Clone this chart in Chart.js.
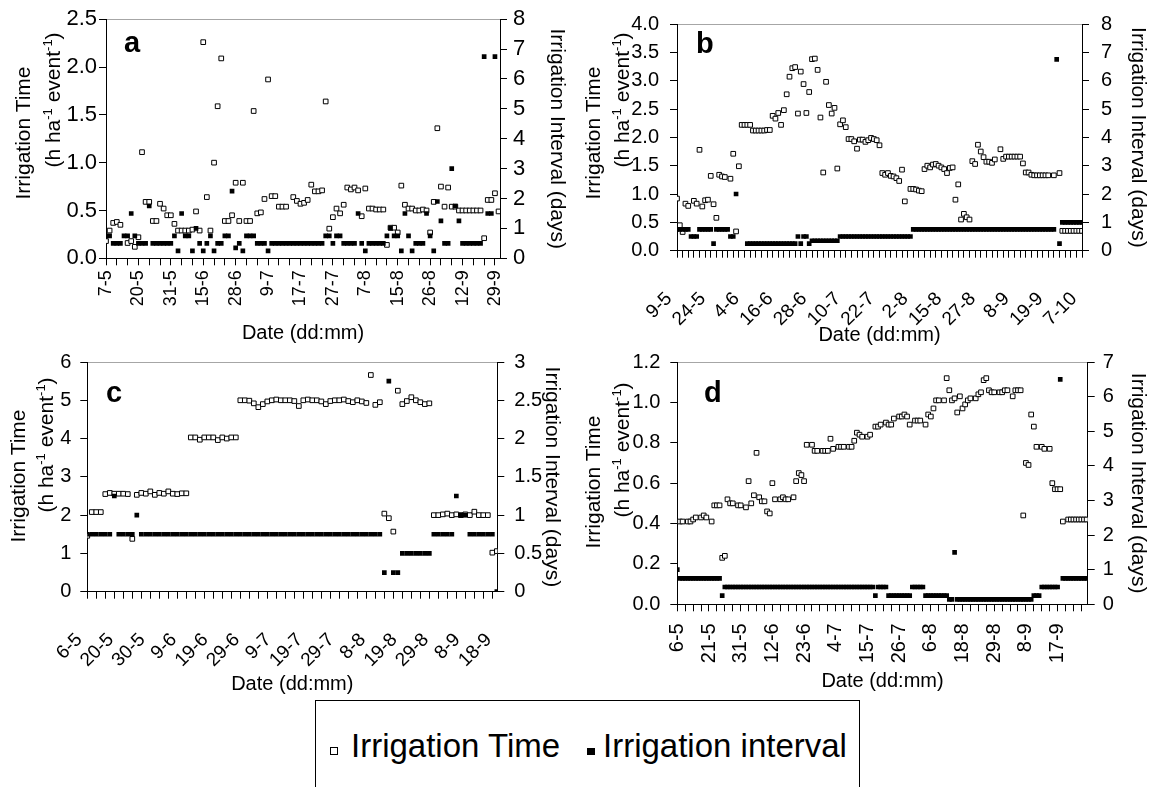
<!DOCTYPE html>
<html lang="en">
<head>
    <meta charset="UTF-8">
    <title>Irrigation time and interval</title>
    <script src="https://cdn.jsdelivr.net/npm/chart.js@4.4.0/dist/chart.umd.min.js"></script>
    <style>
        body {
            margin: 0;
            width: 1154px;
            height: 787px;
            position: relative;
            overflow: hidden;
            background: #fff;
            font-family: "Liberation Sans", Arial, sans-serif;
            color: #000;
        }
        canvas { position: absolute; }
        .ytitle {
            position: absolute;
            transform: translate(-50%, -50%) rotate(-90deg);
            white-space: nowrap;
            font-size: 21px;
            line-height: 1;
        }
        .sup { font-size: 13px; position: relative; top: -8px; }
        .letter {
            position: absolute;
            font-weight: bold;
            font-size: 29px;
            line-height: 29px;
        }
        #legendBox {
            position: absolute;
            left: 315px; top: 700px;
            width: 543px; height: 120px;
            border: 1px solid #000;
        }
        .legText { position: absolute; font-size: 33px; line-height: 1; white-space: nowrap; }
        .legMark { position: absolute; box-sizing: border-box; }
    </style>
</head>
<body>
    <canvas id="chartA" width="573" height="349" style="left:0; top:0"></canvas>
    <canvas id="chartB" width="574" height="351" style="left:580px; top:0"></canvas>
    <canvas id="chartC" width="568" height="360" style="left:0; top:340px"></canvas>
    <canvas id="chartD" width="569" height="357" style="left:585px; top:340px"></canvas>

    <!-- left axis titles (need superscripts) -->
    <div class="ytitle" style="left:22px; top:133px">Irrigation Time</div>
    <div class="ytitle" style="left:52px; top:100px">(h ha<span class="sup">-1</span> event<span class="sup">-1</span>)</div>
    <div class="ytitle" style="left:592px; top:133px">Irrigation Time</div>
    <div class="ytitle" style="left:621px; top:100px">(h ha<span class="sup">-1</span> event<span class="sup">-1</span>)</div>
    <div class="ytitle" style="left:17px; top:476px">Irrigation Time</div>
    <div class="ytitle" style="left:45px; top:445px">(h ha<span class="sup">-1</span> event<span class="sup">-1</span>)</div>
    <div class="ytitle" style="left:592px; top:482px">Irrigation Time</div>
    <div class="ytitle" style="left:621px; top:450px">(h ha<span class="sup">-1</span> event<span class="sup">-1</span>)</div>

    <div class="letter" style="left:124px; top:28px">a</div>
    <div class="letter" style="left:696px; top:29px">b</div>
    <div class="letter" style="left:106px; top:378px">c</div>
    <div class="letter" style="left:704px; top:378px">d</div>

    <div id="legendBox"></div>
    <div class="legMark" style="left:330px; top:747px; width:8px; height:8px; border:1px solid #000; background:#fff"></div>
    <div class="legText" style="left:351px; top:729px">Irrigation Time</div>
    <div class="legMark" style="left:587px; top:748px; width:8px; height:7px; background:#000"></div>
    <div class="legText" style="left:603px; top:729px">Irrigation interval</div>

    <script>
        // ---- data (one value per irrigation date, null = no point) ----
        const datesA = ['7-5', '20-5', '31-5', '15-6', '28-6', '9-7', '17-7', '27-7', '7-8', '15-8', '26-8', '12-9', '29-9'];
        const timeA = [
            0.18, 0.29, 0.37, 0.38, 0.35, null, 0.16, 0.18, 0.12, 0.22,
            1.11, 0.59, 0.59, 0.39, 0.39, 0.57, 0.52, 0.45, 0.45, 0.36,
            0.29, 0.29, 0.29, 0.29, 0.30, 0.49, 0.29, 2.26, 0.64, 0.29,
            1.00, 1.59, 2.09, 0.39, 0.39, 0.45, 0.79, 0.39, 0.79, 0.39,
            0.39, 1.54, 0.47, 0.48, 0.62, 1.87, 0.65, 0.65, 0.54, 0.54,
            0.54, null, 0.64, 0.60, 0.57, 0.58, 0.61, 0.77, 0.70, 0.70,
            0.71, 1.64, 0.31, 0.43, 0.52, 0.47, 0.56, 0.74, 0.72, 0.74,
            0.71, 0.44, 0.73, 0.52, 0.52, 0.51, 0.51, 0.51, 0.14, 0.32,
            0.32, 0.27, 0.76, 0.56, 0.52, 0.52, 0.50, 0.50, 0.51, 0.50,
            0.27, 0.59, 1.36, 0.75, 0.54, 0.74, 0.54, 0.54, 0.50, 0.50,
            0.50, 0.50, 0.50, 0.50, 0.50, 0.21, 0.61, 0.61, 0.68, 0.49
        ];
        const intervalA = [
            0.75, 0.75, 0.5, 0.5, 0.5, 0.75, 0.75, 1.5, 0.75, 0.5,
            0.5, 0.5, 1.75, 0.5, 0.5, 0.5, 0.5, 0.5, 0.5, 0.75,
            0.25, 1.5, 0.75, 0.75, 0.25, 1.0, 0.5, 0.25, 0.5, 0.75,
            0.25, 0.5, 0.5, 0.75, 0.75, 2.25, 0.35, 0.5, 0.25, 0.75,
            0.75, 0.75, 0.5, 0.5, 0.5, 0.25, 0.5, 0.5, 0.5, 0.5,
            0.5, 0.5, 0.5, 0.5, 0.5, 0.5, 0.5, 0.5, 0.5, 0.5,
            0.5, 0.75, 0.75, 0.5, 0.75, 0.75, 0.5, 0.5, 0.5, 0.5,
            1.5, 0.5, 0.25, 0.5, 0.5, 0.5, 0.5, 0.5, 0.75, 1.0,
            0.75, 0.75, 0.25, 1.5, 0.75, 0.25, 0.5, 0.5, 0.5, 1.5,
            0.75, 0.25, 1.9, 1.25, 0.5, 0.5, 3.0, 1.75, 1.25, 0.5,
            0.5, 0.5, 0.5, 0.5, 0.5, 6.75, 1.5, 1.5, 6.75
        ];

        const datesB = ['9-5', '24-5', '4-6', '16-6', '28-6', '10-7', '22-7', '2-8', '15-8', '27-8', '8-9', '19-9', '7-10'];
        const timeB = [
            0.92, 0.45, 0.33, 0.83, 0.79, null, 0.88, 0.83, 1.78, 0.78,
            0.89, 0.90, 1.32, 0.82, 0.58, 1.34, 1.31, 1.30, null, 1.27,
            1.71, 0.34, 1.49, 2.22, 2.22, 2.22, 2.22, 2.12, 2.12, 2.12,
            2.12, 2.12, 2.13, 2.13, 2.38, 2.33, 2.43, 2.22, 2.48, 2.76,
            3.07, 3.22, 3.24, 2.42, 3.16, 2.94, 2.43, 2.80, 3.38, 3.39,
            3.19, 2.35, 1.38, 2.98, 2.57, 2.42, 2.52, 1.45, 2.23, 2.30,
            2.18, 1.97, 1.97, 1.93, 1.80, 1.96, 1.96, 1.92, 1.95, 1.99,
            1.97, 1.95, 1.86, 1.37, 1.34, 1.37, 1.32, 1.31, 1.28, 1.23,
            1.43, 0.87, null, 1.09, 1.09, 1.08, 1.06, 1.05, 1.44, 1.50,
            1.47, 1.52, 1.53, 1.50, 1.47, 1.44, 1.37, 1.46, 1.47, 0.90,
            1.17, 0.55, 0.65, 0.59, 0.55, 1.58, 1.53, 1.87, 1.75, 1.65,
            1.57, 1.57, 1.55, 1.61, null, 1.79, 1.62, 1.66, 1.66, 1.66,
            1.66, 1.66, 1.66, 1.54, 1.38, 1.38, 1.34, 1.33, 1.33, 1.33,
            1.33, 1.33, 1.33, null, 1.33, null, 1.37, 0.35, 0.35, 0.35,
            0.35, 0.35, 0.35, 0.35, 0.35
        ];
        const intervalB = [
            0.75, 0.75, 0.75, 0.75, 0.75, 0.5, 0.5, 0.5, 0.75, 0.75,
            0.75, 0.75, 0.75, 0.25, 0.75, 0.75, 0.75, 0.75, 0.75, 0.5,
            0.5, 2.0, null, null, null, 0.25, 0.25, 0.25, 0.25, 0.25,
            0.25, 0.25, 0.25, 0.25, 0.25, 0.25, 0.25, 0.25, 0.25, 0.25,
            0.25, 0.25, 0.25, 0.5, 0.25, 0.5, 0.5, 0.25, 0.35, 0.35,
            0.35, 0.35, 0.35, 0.35, 0.35, 0.35, 0.35, 0.35, 0.5, 0.5,
            0.5, 0.5, 0.5, 0.5, 0.5, 0.5, 0.5, 0.5, 0.5, 0.5,
            0.5, 0.5, 0.5, 0.5, 0.5, 0.5, 0.5, 0.5, 0.5, 0.5,
            0.5, 0.5, 0.5, 0.5, 0.75, 0.75, 0.75, 0.75, 0.75, 0.75,
            0.75, 0.75, 0.75, 0.75, 0.75, 0.75, 0.75, 0.75, 0.75, 0.75,
            0.75, 0.75, 0.75, 0.75, 0.75, 0.75, 0.75, 0.75, 0.75, 0.75,
            0.75, 0.75, 0.75, 0.75, 0.75, 0.75, 0.75, 0.75, 0.75, 0.75,
            0.75, 0.75, 0.75, 0.75, 0.75, 0.75, 0.75, 0.75, 0.75, 0.75,
            0.75, 0.75, 0.75, 0.75, 0.75, 6.75, 0.25, 1.0, 1.0, 1.0,
            1.0, 1.0, 1.0, 1.0, 1.0
        ];

        const datesC = ['6-5', '20-5', '30-5', '9-6', '19-6', '29-6', '9-7', '19-7', '29-7', '8-8', '19-8', '29-8', '8-9', '18-9'];
        const timeC = [
            1.46, 2.08, 2.08, 2.08, 2.55, 2.58, 2.56, 2.56, 2.56, 2.55,
            1.38, 2.53, 2.58, 2.56, 2.62, 2.53, 2.58, 2.56, 2.62, 2.56,
            2.55, 2.57, 2.57, 4.03, 4.03, 3.97, 4.03, 4.03, 4.03, 3.96,
            4.03, 4.00, 4.03, 4.03, 5.00, 5.00, 4.99, 4.92, 4.82, 4.90,
            4.97, 5.00, 5.02, 5.00, 5.00, 5.00, 4.98, 4.85, 5.00, 5.02,
            5.00, 5.00, 4.97, 4.90, 4.98, 5.00, 5.00, 5.02, 4.98, 4.95,
            5.00, 4.97, 4.93, 5.66, 4.88, 4.95, 2.04, 1.92, 1.57, 5.25,
            4.90, 4.98, 5.08, 5.00, 4.95, 4.90, 4.92, 2.00, 2.00, 2.02,
            2.04, 2.00, 2.02, 2.00, 2.02, 2.00, 2.09, 2.00, 2.00, 2.00,
            1.02, 1.06
        ];
        const intervalC = [
            0.75, 0.75, 0.75, 0.75, 0.75, 0.75, 1.25, 0.75, 0.75, 0.75,
            0.75, 1.0, 0.75, 0.75, 0.75, 0.75, 0.75, 0.75, 0.75, 0.75,
            0.75, 0.75, 0.75, 0.75, 0.75, 0.75, 0.75, 0.75, 0.75, 0.75,
            0.75, 0.75, 0.75, 0.75, 0.75, 0.75, 0.75, 0.75, 0.75, 0.75,
            0.75, 0.75, 0.75, 0.75, 0.75, 0.75, 0.75, 0.75, 0.75, 0.75,
            0.75, 0.75, 0.75, 0.75, 0.75, 0.75, 0.75, 0.75, 0.75, 0.75,
            0.75, 0.75, 0.75, 0.75, 0.75, 0.75, 0.25, 2.75, 0.25, 0.25,
            0.5, 0.5, 0.5, 0.5, 0.5, 0.5, 0.5, 0.75, 0.75, 0.75,
            0.75, 0.75, 1.25, 1.0, 1.0, 0.75, 0.75, 0.75, 0.75, 0.75,
            0.75, 0
        ];

        const datesD = ['6-5', '21-5', '31-5', '12-6', '23-6', '4-7', '15-7', '26-7', '6-8', '18-8', '29-8', '8-9', '17-9'];
        const timeD = [
            null, 0.41, 0.41, null, 0.41, 0.41, 0.42, 0.43, null, 0.43,
            0.44, 0.43, null, 0.41, 0.49, 0.49, 0.49, 0.23, 0.24, 0.52,
            0.50, 0.50, null, 0.49, 0.49, null, 0.48, 0.61, 0.50, 0.54,
            0.75, 0.53, 0.51, 0.51, 0.46, 0.45, 0.60, 0.52, null, 0.52,
            0.53, 0.52, 0.52, null, 0.53, 0.61, 0.65, 0.64, 0.61, 0.79,
            null, 0.79, 0.76, 0.76, null, 0.76, 0.76, 0.76, 0.82, 0.77,
            null, 0.78, 0.78, 0.78, null, 0.78, 0.78, 0.81, 0.85, 0.84,
            0.83, null, 0.83, 0.84, null, 0.88, 0.88, 0.89, null, 0.90,
            0.89, 0.89, 0.92, null, 0.93, 0.93, 0.94, 0.93, 0.89, null,
            0.91, 0.91, 0.91, null, 0.89, 0.94, 0.93, 0.97, 1.01, 1.01,
            null, 1.01, 1.12, 1.06, 1.01, 1.02, 0.95, 1.03, 0.97, 0.99,
            1.01, 1.02, null, 1.02, 1.04, 1.05, 1.11, 1.12, 1.06, 1.05,
            1.05, null, 1.05, 1.05, 1.06, 1.06, null, 1.03, 1.06, 1.06,
            1.06, 0.44, 0.70, 0.69, 0.94, 0.88, 0.78, null, 0.78, 0.77,
            null, 0.77, 0.60, 0.57, 0.57, 0.57, 0.41, null, 0.42, 0.42,
            0.42, 0.42, 0.42, 0.42, 0.42, 0.42
        ];
        const intervalD = [
            1.0, 0.75, 0.75, 0.75, 0.75, 0.75, 0.75, 0.75, 0.75, 0.75,
            0.75, 0.75, 0.75, 0.75, 0.75, 0.75, 0.75, 0.25, 0.5, 0.5,
            0.5, 0.5, 0.5, 0.5, 0.5, 0.5, 0.5, 0.5, 0.5, 0.5,
            0.5, 0.5, 0.5, 0.5, 0.5, 0.5, 0.5, 0.5, 0.5, 0.5,
            0.5, 0.5, 0.5, 0.5, 0.5, 0.5, 0.5, 0.5, 0.5, 0.5,
            0.5, 0.5, 0.5, 0.5, 0.5, 0.5, 0.5, 0.5, 0.5, 0.5,
            0.5, 0.5, 0.5, 0.5, 0.5, 0.5, 0.5, 0.5, 0.5, 0.5,
            0.5, 0.5, 0.5, 0.5, 0.5, 0.25, 0.5, 0.5, 0.5, 0.5,
            0.25, 0.25, 0.25, 0.25, 0.25, 0.25, 0.25, 0.25, 0.25, 0.5,
            0.5, 0.5, 0.5, 0.5, 0.25, 0.25, 0.25, 0.25, 0.25, 0.25,
            0.25, 0.25, 0.25, 0.14, 0.14, 1.5, 0.14, 0.14, 0.14, 0.14,
            0.14, 0.14, 0.14, 0.14, 0.14, 0.14, 0.14, 0.14, 0.14, 0.14,
            0.14, 0.14, 0.14, 0.14, 0.14, 0.14, 0.14, 0.14, 0.14, 0.14,
            0.14, 0.14, 0.14, 0.14, 0.14, 0.25, 0.25, 0.25, 0.5, 0.5,
            0.5, 0.5, 0.5, 0.5, 0.5, 6.5, 0.75, 0.75, 0.75, 0.75,
            0.75, 0.75, 0.75, 0.75, 0.75, 0.75
        ];

        const FONT = '"Liberation Sans", Arial, sans-serif';

        // turn a value list into scatter points, x = position of the date in the series
        function toPoints(values) {
            const pts = [];
            values.forEach((v, i) => {
                if (v !== null) pts.push({ x: i, y: v });
            });
            return pts;
        }

        function fmt(dec) {
            return v => dec ? Number(v).toFixed(dec) : String(Math.round(v * 100) / 100);
        }

        function drawPanel(id, p) {
            const tickGrid = { drawOnChartArea: false, tickLength: 7, color: '#000', lineWidth: 1 };
            const markEvery = p.markEvery || 1;
            new Chart(document.getElementById(id), {
                type: 'scatter',
                data: {
                    datasets: [
                        {
                            label: 'Irrigation Time',
                            data: toPoints(p.time),
                            yAxisID: 'y',
                            order: 1,
                            pointStyle: 'rect',
                            pointRadius: 3.3,
                            backgroundColor: '#fff',
                            borderColor: '#000',
                            borderWidth: 1
                        },
                        {
                            label: 'Irrigation interval',
                            data: toPoints(p.interval),
                            yAxisID: 'y2',
                            order: 0,
                            pointStyle: 'rect',
                            pointRadius: 3.3,
                            backgroundColor: '#000',
                            borderWidth: 0
                        }
                    ]
                },
                options: {
                    responsive: false,
                    animation: false,
                    events: [],
                    layout: { padding: { top: p.padTop, left: 0, right: 0, bottom: 0 } },
                    plugins: { legend: { display: false }, tooltip: { enabled: false } },
                    scales: {
                        x: {
                            type: 'linear',
                            position: 'bottom',
                            min: 0,
                            max: p.xMax,
                            grid: {
                                drawOnChartArea: false,
                                tickLength: 7,
                                lineWidth: 1,
                                color: '#000',
                                // tick marks only every markEvery dates
                                tickColor: ctx => (ctx.tick && Math.round(ctx.tick.value) % markEvery === 0) ? '#000' : 'rgba(0,0,0,0)'
                            },
                            border: { display: true, color: '#000', width: 1 },
                            ticks: {
                                stepSize: p.xStep,
                                autoSkip: false,
                                includeBounds: false,
                                minRotation: p.xRot,
                                maxRotation: p.xRot,
                                padding: p.xPad,
                                labelOffset: p.xOffset,
                                color: '#000',
                                font: { family: FONT, size: p.xFont },
                                callback: v => {
                                    const k = Math.round(v);
                                    return k % p.labelEvery === 0 ? (p.dates[k / p.labelEvery] || '') : '';
                                }
                            },
                            title: {
                                display: true,
                                text: 'Date (dd:mm)',
                                color: '#000',
                                font: { family: FONT, size: 20 },
                                padding: { top: 0, bottom: 4 }
                            },
                            afterFit: s => { s.height = p.xH; }
                        },
                        xTop: {
                            type: 'linear',
                            position: 'top',
                            min: 0,
                            max: 1,
                            grid: { display: false },
                            ticks: { display: false },
                            border: { display: true, color: '#a6a6a6', width: 1 },
                            afterFit: s => { s.height = 0; }
                        },
                        y: {
                            type: 'linear',
                            position: 'left',
                            min: 0,
                            max: p.yMax,
                            grid: tickGrid,
                            border: { display: true, color: '#000', width: 1 },
                            ticks: {
                                stepSize: p.yStep,
                                padding: p.yPad,
                                color: '#000',
                                font: { family: FONT, size: p.yFont },
                                callback: fmt(p.yDec)
                            },
                            afterFit: s => { s.width = p.leftW; }
                        },
                        y2: {
                            type: 'linear',
                            position: 'right',
                            min: 0,
                            max: p.y2Max,
                            grid: tickGrid,
                            border: { display: true, color: '#000', width: 1 },
                            ticks: {
                                stepSize: p.y2Step,
                                padding: p.y2Pad,
                                color: '#000',
                                font: { family: FONT, size: p.yFont },
                                callback: fmt(0)
                            },
                            title: {
                                display: true,
                                text: 'Irrigation Interval (days)',
                                color: '#000',
                                font: { family: FONT, size: 21 },
                                padding: { top: 4, bottom: 0 }
                            },
                            afterFit: s => { s.width = p.rightW; }
                        }
                    }
                }
            });
        }

        drawPanel('chartA', {
            time: timeA, interval: intervalA, dates: datesA,
            xMax: 109.4, xStep: 3, labelEvery: 9, xRot: 90, xFont: 18, xPad: 5, xOffset: 0,
            yMax: 2.5, yStep: 0.5, yDec: 1, y2Max: 8, y2Step: 1,
            leftW: 106, rightW: 73, xH: 90.7, padTop: 15.7, yFont: 22, yPad: 2, y2Pad: 6
        });
        drawPanel('chartB', {
            time: timeB, interval: intervalB, dates: datesB,
            xMax: 144, xStep: 2, labelEvery: 12, xRot: 45, xFont: 19, xPad: 30, xOffset: -8,
            yMax: 4, yStep: 0.5, yDec: 1, y2Max: 8, y2Step: 1,
            leftW: 97, rightW: 72, xH: 100.3, padTop: 15, yFont: 20, yPad: 11, y2Pad: 12
        });
        drawPanel('chartC', {
            time: timeC, interval: intervalC, dates: datesC,
            xMax: 91.1, xStep: 1, markEvery: 2, labelEvery: 7, xRot: 45, xFont: 19, xPad: 30, xOffset: -8,
            yMax: 6, yStep: 1, yDec: 0, y2Max: 3, y2Step: 0.5,
            leftW: 87.3, rightW: 70.7, xH: 108.3, padTop: 19.3, yFont: 20, yPad: 9, y2Pad: 10
        });
        drawPanel('chartD', {
            time: timeD, interval: intervalD, dates: datesD,
            xMax: 155.4, xStep: 3, labelEvery: 12, xRot: 90, xFont: 20, xPad: 12, xOffset: 0,
            yMax: 1.2, yStep: 0.2, yDec: 1, y2Max: 7, y2Step: 1,
            leftW: 92.3, rightW: 66.3, xH: 92.7, padTop: 19.3, yFont: 20, yPad: 10, y2Pad: 8
        });
    </script>
</body>
</html>
